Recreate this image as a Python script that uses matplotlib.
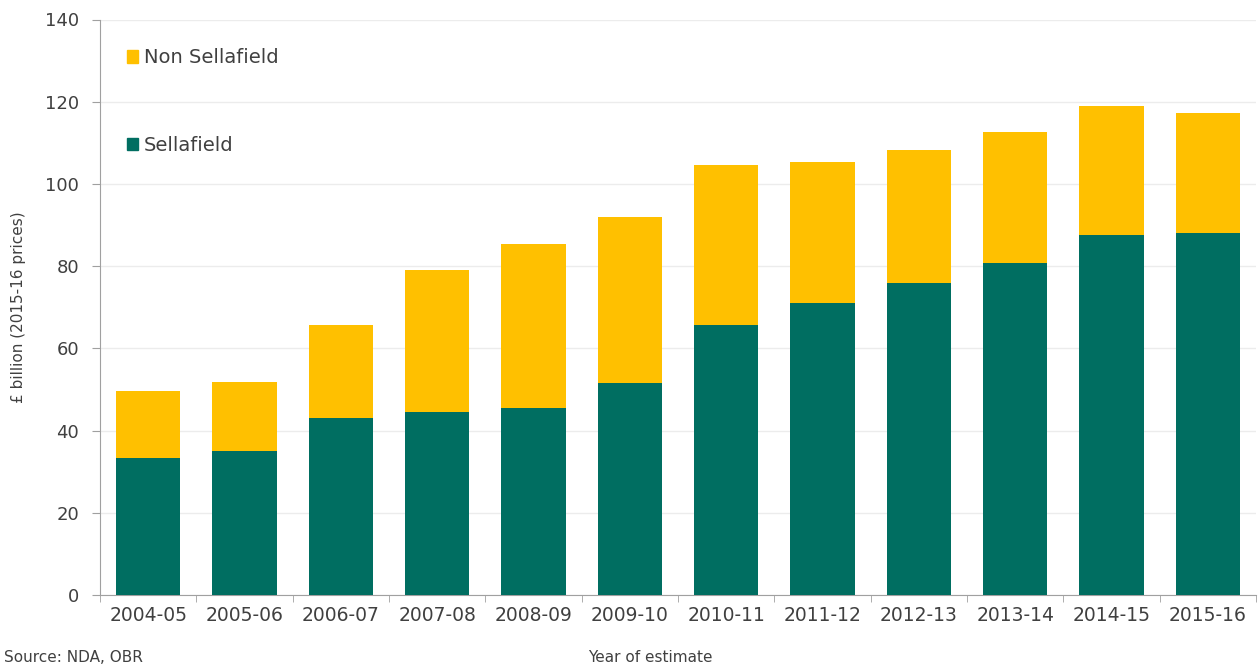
import matplotlib
matplotlib.use('Agg')
import matplotlib.pyplot as plt
from matplotlib.patches import Patch
import numpy as np

years = ['2004-05', '2005-06', '2006-07', '2007-08', '2008-09', '2009-10',
         '2010-11', '2011-12', '2012-13', '2013-14', '2014-15', '2015-16']
sellafield = [33.4, 35.0, 43.1, 44.5, 45.5, 51.6, 65.6, 71.1, 75.9, 80.8, 87.6, 88.0]
total = [49.6, 51.8, 65.7, 79.0, 85.5, 92.0, 104.6, 105.3, 108.3, 112.7, 119.0, 117.2]
non_sellafield = [t - s for t, s in zip(total, sellafield)]

teal = '#006e61'
gold = '#ffc000'
text_col = '#404040'

fig = plt.figure(figsize=(12.58, 6.66), dpi=100)
ax = fig.add_axes([100 / 1258, 71 / 666, 1156 / 1258, 575.5 / 666])

x = np.arange(len(years))
ax.bar(x, sellafield, width=0.67, color=teal, zorder=3)
ax.bar(x, non_sellafield, width=0.67, bottom=sellafield, color=gold, zorder=3)

ax.set_xlim(-0.5, len(years) - 0.5)
ax.set_ylim(0, 140)
ax.set_yticks(range(0, 141, 20))
ax.yaxis.grid(True, color='#ececec', linewidth=1, zorder=0)

ax.set_xticks(x)
ax.set_xticklabels(years)
ax.set_xticks(np.arange(-0.5, len(years), 1), minor=True)
ax.tick_params(axis='x', which='major', length=0, pad=8, labelsize=13.5, labelcolor=text_col)
ax.tick_params(axis='x', which='minor', length=5, color='#a0a0a0', direction='out')
ax.tick_params(axis='y', length=6, color='#a0a0a0', pad=9, labelsize=13, labelcolor=text_col)

for side in ['top', 'right']:
    ax.spines[side].set_visible(False)
for side in ['left', 'bottom']:
    ax.spines[side].set_color('#a0a0a0')

ax.set_ylabel('£ billion (2015-16 prices)', fontsize=11, color=text_col, labelpad=14)

fig.text(650 / 1258, 8 / 666, 'Year of estimate', fontsize=11, color=text_col,
         ha='center', va='center')
fig.text(4 / 1258, 16 / 666, 'Source: NDA, OBR', fontsize=11, color=text_col,
         ha='left', va='top')

handles = [Patch(color=gold, label='Non Sellafield'), Patch(color=teal, label='Sellafield')]
fig.legend(handles=handles, loc='upper left', bbox_to_anchor=(109 / 1258, 1 - 31 / 666),
           frameon=False, fontsize=14, handlelength=0.6, handleheight=0.6,
           handletextpad=0.3, labelspacing=3.5, labelcolor=text_col)

fig.savefig('out.png', dpi=100)
